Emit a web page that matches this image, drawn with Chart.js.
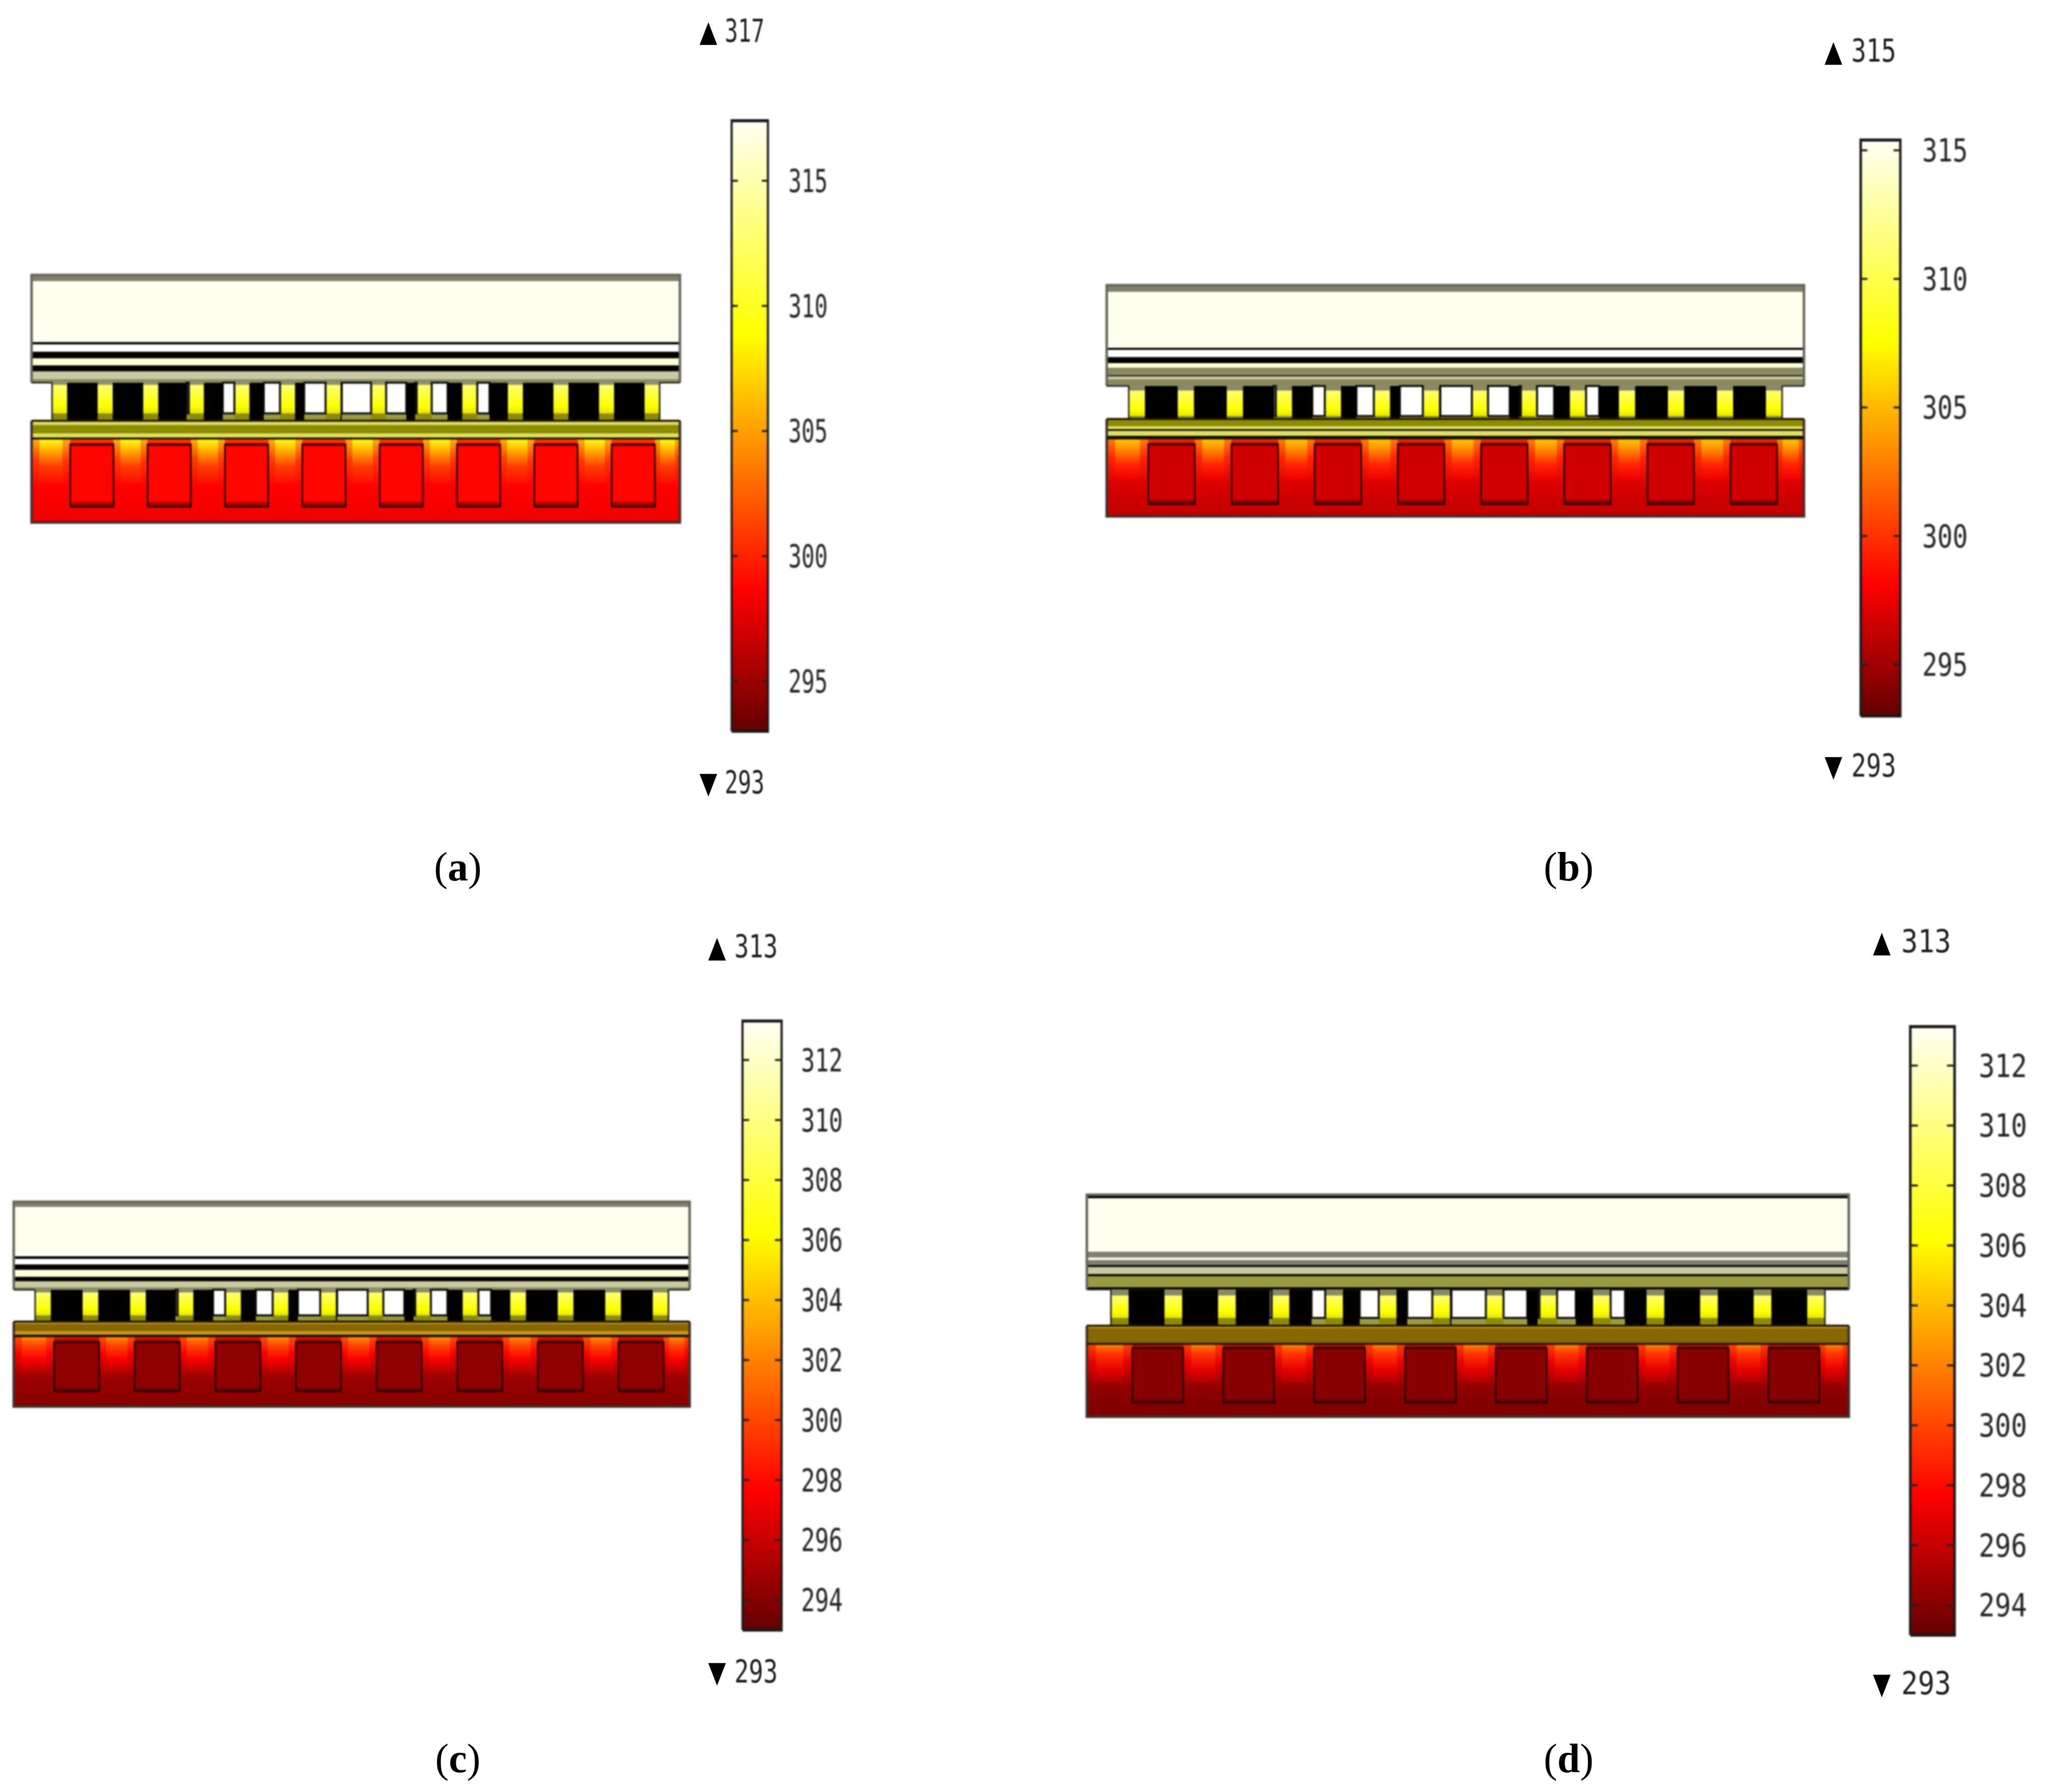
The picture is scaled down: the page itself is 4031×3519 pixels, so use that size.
<!DOCTYPE html>
<html><head><meta charset="utf-8">
<script src="https://cdn.jsdelivr.net/npm/chart.js@4/dist/chart.umd.min.js"></script>
<style>
html,body{margin:0;padding:0;background:#fff;width:4031px;height:3519px;overflow:hidden}
canvas{position:absolute;filter:blur(1.8px)}
.t{position:absolute;white-space:nowrap;color:#222;line-height:1;transform-origin:left center;font-family:"DejaVu Sans Mono",monospace;font-size:62px;filter:blur(1.2px)}
.m{position:absolute;line-height:1;color:#000;transform:translate(-50%,-50%) scaleX(.78);font-family:"DejaVu Sans";font-size:58px}
.c{position:absolute;white-space:nowrap;transform:translate(-50%,-50%);font:80px "Liberation Serif",serif;color:#000}
</style></head><body>
<script>
// ---- temperature read-outs (K) ----
const panelNames   = ['a','b','c','d'];
const tempMin      = [293,293,293,293];
const tempMax      = [317,315,313,313];
const barTop       = [317.4,315.4,313.3,313.3];
const tickValuesA  = [295,300,305,310,315];
const tickValuesB  = [295,300,305,310,315];
const tickValuesC  = [294,296,298,300,302,304,306,308,310,312];
const tickValuesD  = [294,296,298,300,302,304,306,308,310,312];
const ribTopT      = [309.5,305.5,302.5,302];
const ribMidT      = [301,299.5,297.5,297];
const ribLowT      = [298.6,297,294.8,294.4];
const ribCoreT     = [306,303.5,300,299.5];
const channelT     = [298.8,296.6,294.3,294.1];
const channelRimT  = [295,294,293.2,293.2];
const baseLowT     = [298.2,296.3,294.2,293.8];
const baseEdgeT    = [295.5,295,293.4,293.2];
// colormap (fraction of range -> colour), as on the colour bars
const mapStops  = [0,0.23,0.65,1];
const mapColors = [[100,0,0],[255,0,0],[255,255,0],[255,255,245]];

// ---- device geometry, % of device width / height ----
const channelStart = [5.96,17.89,29.82,41.75,53.68,65.61,77.54,89.47];
const channelWide  = 6.67;
const postStart    = [3.16,10.19,17.22,24.25,31.28,38.31,45.34,52.37,59.40,66.43,73.46,80.49,87.52,94.55];
const postWide     = 2.32;
const gapBlackFrom = [0,0,0,0,0,0,0,0.66,0.52,0.40,0,0,0];
const gapBlackTo   = [1,1,0.93,0.62,0.47,0.30,0.04,0.95,1,1,1,1,1];
const layerEdgesA = [100,97.5,72.9,71.9,69.0,66.3,63.5,61.0,57.9,56.5];
const layerShadeA = ['gray','cream','black','white','black','pale','black','sage','dusk'];
const layerEdgesB = [100,97.1,72.9,72.0,68.9,66.3,64.3,61.0,60.6,59.3,56.4];
const layerShadeB = ['gray','cream','black','white','black','pale','dusk','black','sage','dusk'];
const layerEdgesC = [100,97.5,73.4,72.1,69.4,66.7,63.4,61.2,58.2,57.0];
const layerShadeC = ['gray','cream','black','white','black','pale','black','sage','dusk'];
const layerEdgesD = [100,98.4,74.3,71.6,70.6,68.3,67.4,64.2,63.3,58.3,57.3];
const layerShadeD = ['black','cream','gray','white','gray','black','sage','black','moss','black'];
const bandEdgesA  = [41.1,39.4,36.0,34.3,33.9];
const bandShadeA  = ['lime','olive','lime','black'];
const bandEdgesB  = [42.1,39.0,37.7,37.0,34.8,33.7];
const bandShadeB  = ['olive','lime','black','lime','black'];
const bandEdgesC  = [41.5,40.3,36.8,35.1,34.3];
const bandShadeC  = ['gold','brown','gold','black'];
const bandEdgesD  = [41.0,39.9,32.8];
const bandShadeD  = ['gold','brown'];
const postTop     = [55.6,54.4,55.7,54.6];
const postBottom  = [44.1,43.4,44.5,44.5];
const channelHigh = [31.6,31.3,31.6,31.0];
const channelLow  = [6.4,5.3,7.5,6.4];
const baseBottom  = [1.0,1.3,1.7,0.7];

// ---- page layout (kept apart from the values) ----
const shades = {gray:'#80806f',cream:'#fffff0',white:'#ffffff',black:'#000000',pale:'#ffffd8',sage:'#c9c9a0',dusk:'#8a8a62',moss:'#9a9a40',lime:'#dede60',olive:'#8c8c00',gold:'#c8971f',brown:'#876800'};
const deviceBox = [[62,540,1335,1026],[2173,560,3542,1014],[27,2360,1354,2762],[2134,2346,3630,2782]];
const barBox    = [[1437,237,1508,1436],[3653,275,3731,1406],[1458,2005,1535,3201],[3751,2016,3838,3211]];
const labelLeft = [1548,3774,1573,3885];
const labelWide = [77,90,82,95];
const FONT_PX   = 62;
const markTri   = [1391,3600,1408,3695];
const markText  = [1423,3635,1442,3733];
const markWide  = [78,88,85,98];
const markTopY  = [61,100,1859,1849];
const markLowY  = [1537,1504,3283,3306];
const captionXY = [[899,1702],[3080,1702],[899,3453],[3080,3453]];
const PAD = 8;

const edgesOf = [layerEdgesA,layerEdgesB,layerEdgesC,layerEdgesD];
const shadeOf = [layerShadeA,layerShadeB,layerShadeC,layerShadeD];
const bandE   = [bandEdgesA,bandEdgesB,bandEdgesC,bandEdgesD];
const bandS   = [bandShadeA,bandShadeB,bandShadeC,bandShadeD];
const ticksOf = [tickValuesA,tickValuesB,tickValuesC,tickValuesD];

function heat(T,p){
  const t=Math.max(0,Math.min(1,(T-tempMin[p])/(barTop[p]-tempMin[p])));
  let i=0; while(i<mapStops.length-2 && t>mapStops[i+1]) i++;
  const f=(t-mapStops[i])/(mapStops[i+1]-mapStops[i]);
  const c=mapColors[i].map((v,k)=>Math.round(v+(mapColors[i+1][k]-v)*f));
  return `rgb(${c[0]},${c[1]},${c[2]})`;
}
// vertical gradient through (value, colour) pairs on the chart's y scale
function vGrad(pairs){
  return (ctx)=>{
    const ch=ctx.chart, s=ch.scales.y;
    const y0=s.getPixelForValue(pairs[0][0]), y1=s.getPixelForValue(pairs[pairs.length-1][0]);
    if(!isFinite(y0)||!isFinite(y1)||y0===y1) return pairs[0][1];
    const g=ch.ctx.createLinearGradient(0,y0,0,y1);
    pairs.forEach(q=>g.addColorStop(Math.max(0,Math.min(1,(s.getPixelForValue(q[0])-y0)/(y1-y0))),q[1]));
    return g;
  };
}
function rect(x0,x1,yTop,yLow,fill,stroke,lw){
  return {data:[{x:x0,y:yLow},{x:x1,y:yLow},{x:x1,y:yTop},{x:x0,y:yTop},{x:x0,y:yLow}],
    showLine:true,fill:'shape',backgroundColor:fill,borderColor:stroke||'rgba(0,0,0,0)',borderWidth:stroke?(lw||3):0,
    pointRadius:0,tension:0,clip:false};
}
function path(pts,color,lw){
  return {data:pts,showLine:true,fill:false,borderColor:color,borderWidth:lw,pointRadius:0,clip:false};
}
function deviceSets(p){
  const S=[], e=edgesOf[p], sh=shadeOf[p], be=bandE[p], bs=bandS[p];
  // substrate
  const subTop=be[be.length-1];
  S.push(rect(0,100,subTop,0,vGrad([[subTop,heat(ribMidT[p]+1,p)],[channelHigh[p],heat(channelT[p],p)],[baseBottom[p]+3,heat(baseLowT[p],p)],[baseBottom[p],heat(baseLowT[p],p)],[0,heat(baseEdgeT[p],p)]])));
  // ribs between the channels
  const ribFrom=[0].concat(channelStart.map(v=>v+channelWide));
  const ribTo=channelStart.concat([100]);
  ribFrom.forEach((a,i)=>{
    const w=ribTo[i]-a, hi=subTop-0.3;
    const grad=[[hi,heat(ribMidT[p]+ (ribTopT[p]-ribMidT[p])*0.55,p)],[hi-8,heat(ribMidT[p],p)],[hi-19,heat(ribLowT[p],p)],[baseBottom[p]+3,heat(baseLowT[p],p)]];
    S.push(rect(a,a+w,hi,baseBottom[p]+3,vGrad(grad)));
    const core=[[hi,heat(ribTopT[p],p)],[hi-4,heat(ribCoreT[p],p)],[hi-11,heat(ribMidT[p],p)],[hi-17,heat(ribLowT[p]+0.8,p)]];
    S.push(rect(a+w*0.2,a+w*0.8,hi,hi-17,vGrad(core)));
  });
  // coolant channels
  channelStart.forEach(x=>{
    const hi=channelHigh[p], lo=channelLow[p], r=hi-lo;
    S.push(rect(x,x+channelWide,hi,lo,vGrad([[hi,heat(channelRimT[p],p)],[hi-r*0.05,heat(channelT[p],p)],[lo+r*0.09,heat(channelT[p],p)],[lo+r*0.05,heat(channelRimT[p],p)],[lo,heat(channelRimT[p],p)]]),'#1a0000',3));
  });
  // solid layers above the teeth, and bands under them
  sh.forEach((name,i)=>S.push(rect(0,100,e[i],e[i+1],shades[name])));
  bs.forEach((name,i)=>S.push(rect(0,100,be[i],be[i+1],shades[name])));
  // teeth
  const tTop=e[e.length-1], tLow=be[0];
  S.push(rect(postStart[0],postStart[13]+postWide,postBottom[p],tLow,shades.moss));
  postStart.forEach(x=>{
    S.push(rect(x,x+postWide,tTop,postTop[p],shades.dusk));
    S.push(rect(x,x+postWide,postTop[p],postBottom[p],vGrad([[postTop[p],'#ffff70'],[postBottom[p]+3,'#ffff00'],[postBottom[p],'#e6e600']])));
    S.push(rect(x,x+postWide,postBottom[p],tLow,shades.olive));
  });
  gapBlackFrom.forEach((f,i)=>{
    const a=postStart[i]+postWide, w=postStart[i+1]-a, to=gapBlackTo[i];
    // open (white) part of the gap, framed in black
    if(f>0) S.push(rect(a,a+w*f,tTop,postBottom[p],shades.white,'#111111',4));
    if(to<1) S.push(rect(a+w*to,a+w,tTop,postBottom[p],shades.white,'#111111',4));
    S.push(rect(a+w*f,a+w*to,tTop,tLow,'#000000'));
  });
  // side walls of the teeth row
  [postStart[0],postStart[13]+postWide].forEach(x=>S.push(path([{x:x,y:tTop},{x:x,y:tLow}],'#222222',3)));
  // outlines of the two parts of the stack
  S.push(path([{x:0,y:tTop},{x:0,y:100},{x:100,y:100},{x:100,y:tTop}],'#66665a',5));
  S.push(path([{x:0,y:tLow},{x:0,y:0},{x:100,y:0},{x:100,y:tLow}],'#40302a',5));
  S.push(path([{x:0,y:tTop},{x:postStart[0],y:tTop}],'#222222',3));
  S.push(path([{x:postStart[13]+postWide,y:tTop},{x:100,y:tTop}],'#222222',3));
  S.push(path([{x:0,y:tLow},{x:100,y:tLow}],'#201800',4));
  S.push(path([{x:0,y:subTop},{x:100,y:subTop}],'#201800',4));
  // Chart.js paints dataset 0 last; keep painter's order
  return S.reverse();
}
function mount(box,extraRight,squeeze){
  const c=document.createElement('canvas');
  const s=squeeze||1;
  const cssW=box[2]-box[0]+2*PAD*s+(extraRight||0), h=box[3]-box[1]+2*PAD;
  c.width=Math.round(cssW/s);c.height=h;
  c.style.cssText=`left:${box[0]-PAD*s}px;top:${box[1]-PAD}px;width:${cssW}px;height:${h}px`;
  document.body.appendChild(c);
  return c;
}
const baseOpts={responsive:false,animation:false,devicePixelRatio:1,events:[],plugins:{legend:{display:false},tooltip:{enabled:false},title:{display:false}}};

panelNames.forEach((name,p)=>{
  // device cross-section
  new Chart(mount(deviceBox[p]),{type:'scatter',data:{datasets:deviceSets(p)},options:{...baseOpts,
    layout:{padding:PAD,autoPadding:false},
    scales:{x:{type:'linear',min:0,max:100,display:false},y:{type:'linear',min:0,max:100,display:false}}}});

  // colour bar with its own temperature axis; the canvas is squeezed sideways like the narrow labels
  const b=barBox[p], squeeze=labelWide[p]/(3*0.602*FONT_PX);
  const right=labelLeft[p]-b[2]+labelWide[p]*1.2;
  const lo=tempMin[p], hi=barTop[p], N=mapStops.length;
  const pairs=[];
  for(let i=N-1;i>=0;i--) pairs.push([lo+(hi-lo)*mapStops[i],`rgb(${mapColors[i].join(',')})`]);
  const sets=[];
  ticksOf[p].forEach(v=>{
    sets.push(path([{x:0,y:v},{x:0.17,y:v}],'#222',4));
    sets.push(path([{x:0.83,y:v},{x:1,y:v}],'#222',4));
  });
  sets.push(rect(0,1,hi,lo,vGrad(pairs),'#1a1a1a',6));
  new Chart(mount(b,right,squeeze),{type:'scatter',data:{datasets:sets},options:{...baseOpts,
    layout:{padding:{left:PAD,top:PAD,bottom:PAD,right:PAD},autoPadding:false},
    scales:{
      x:{type:'linear',min:0,max:1,display:false},
      y:{type:'linear',position:'right',min:lo,max:hi,
        afterBuildTicks:ax=>{ax.ticks=ticksOf[p].map(v=>({value:v}));},
        afterFit:ax=>{ax.width=right/squeeze;ax.paddingTop=0;ax.paddingBottom=0;},
        grid:{display:false,drawTicks:false},border:{display:false},
        ticks:{padding:(labelLeft[p]-b[2])/squeeze,labelOffset:6,autoSkip:false,color:'#222',font:{family:'"DejaVu Sans Mono"',size:FONT_PX},callback:v=>String(v)}}}}});

  // extreme-value markers
  [[tempMax[p],markTopY[p],'\u25B2'],[tempMin[p],markLowY[p],'\u25BC']].forEach(q=>{
    const m=document.createElement('div');m.className='m';m.textContent=q[2];
    m.style.left=markTri[p]+'px';m.style.top=q[1]+'px';document.body.appendChild(m);
    const t=document.createElement('div');t.className='t';t.textContent=q[0];
    t.style.left=markText[p]+'px';t.style.top=q[1]+'px';
    t.style.transform=`translateY(-50%) scaleX(${markWide[p]/(3*0.602*FONT_PX)})`;
    document.body.appendChild(t);
  });
  // caption
  const c=document.createElement('div');c.className='c';
  c.innerHTML='(<b>'+name+'</b>)';
  c.style.left=captionXY[p][0]+'px';c.style.top=captionXY[p][1]+'px';document.body.appendChild(c);
});
</script></body></html>
